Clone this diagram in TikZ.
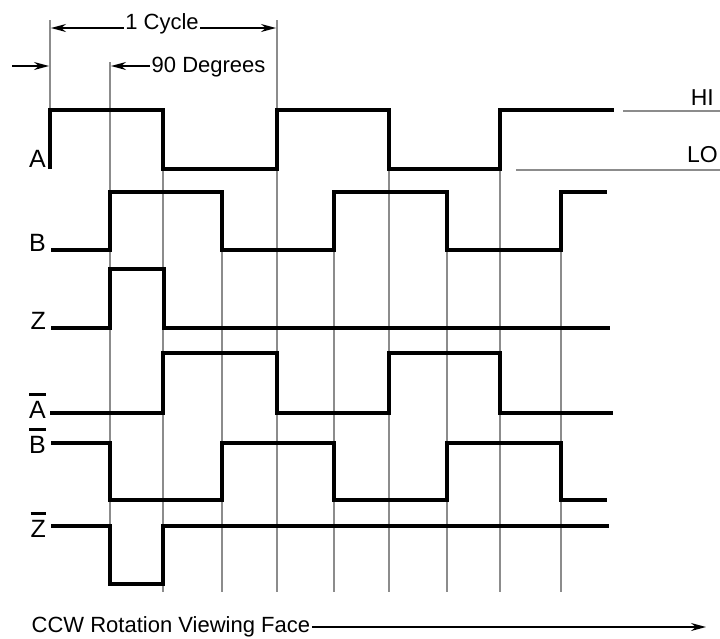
\documentclass[tikz,border=0pt]{standalone}
\usepackage{fontspec}
\setmainfont{Liberation Sans}
\usetikzlibrary{arrows.meta}
\newcommand{\sigbar}[1]{\vbox{\hrule height 2.6pt\kern 5pt\hbox{#1}}}

\begin{document}
\begin{tikzpicture}[x=1pt,y=-1pt,
        wave/.style={line width=3.2pt, line join=miter},
        tick/.style={black!45, line width=1.6pt},
        level/.style={black!45, line width=1.8pt},
        sig/.style={font=\fontsize{25}{29}\selectfont, anchor=base east, inner sep=1pt},
        note/.style={font=\fontsize{22}{26}\selectfont, inner sep=1.5pt},
        dim/.style={line width=1.4pt, -{Stealth[length=15pt,width=8pt]}}]
                \useasboundingbox (0,0) rectangle (720,638);

                \draw [tick] (50,20) -- (50,110);
                \draw [tick] (110,62) -- (110,584);
                \draw [tick] (163,169) -- (163,592);
                \draw [tick] (222,250) -- (222,592);
                \draw [tick] (277,20) -- (277,592);
                \draw [tick] (334,250) -- (334,592);
                \draw [tick] (389,169) -- (389,592);
                \draw [tick] (447,250) -- (447,592);
                \draw [tick] (500,169) -- (500,592);
                \draw [tick] (561,250) -- (561,592);

                \draw [level] (623,111) -- (720,111);
                \draw [level] (516,170) -- (720,170);

                \draw [wave] (50,169) -- (50,110) -- (163,110) -- (163,169) -- (277,169) -- (277,110)
                        -- (389,110) -- (389,169) -- (500,169) -- (500,110) -- (614,110);
                \draw [wave] (51,250) -- (110,250) -- (110,192) -- (222,192) -- (222,250) -- (334,250)
                        -- (334,192) -- (447,192) -- (447,250) -- (561,250) -- (561,192) -- (607,192);
                \draw [wave] (51,328) -- (110,328) -- (110,269) -- (164,269) -- (164,328) -- (610,328);
                \draw [wave] (50,413) -- (163,413) -- (163,353) -- (277,353) -- (277,413) -- (389,413)
                        -- (389,353) -- (500,353) -- (500,413) -- (613,413);
                \draw [wave] (51,443) -- (110,443) -- (110,500) -- (222,500) -- (222,443) -- (334,443)
                        -- (334,500) -- (447,500) -- (447,443) -- (561,443) -- (561,500) -- (607,500);
                \draw [wave] (51,526) -- (110,526) -- (110,584) -- (163,584) -- (163,526) -- (609,526);

                \node [sig] (labA) at (47,167) {A};
                \node [sig] (labB) at (47,251) {B};
                \node [sig] (labZ) at (47,329) {Z};
                \node [sig] (labAbar) at (47,418) {\sigbar{A}};
                \node [sig] (labBbar) at (47,453) {\sigbar{B}};
                \node [sig] (labZbar) at (47,537) {\sigbar{Z}};

                \node [sig, font=\fontsize{23}{27}\selectfont] (hi) at (715,105) {HI};
                \node [sig, font=\fontsize{23}{27}\selectfont] (lo) at (719,162) {LO};

                \node [note, anchor=base] (cycle) at (162,29) {1 Cycle};
                \node [note, anchor=base west] (deg) at (150,72) {90 Degrees};
                \node [note, anchor=base west] (ccw) at (30,632) {CCW Rotation Viewing Face};

                \coordinate (cycL) at (51,28);
                \coordinate (cycR) at (276,28);
                \coordinate (degL) at (111,66);
                \coordinate (startL) at (12,66);
                \coordinate (startR) at (49,66);
                \coordinate (ccwR) at (706,627);

                \draw [dim] (cycle.west |- cycL) -- (cycL);
                \draw [dim] (cycle.east |- cycR) -- (cycR);
                \draw [dim] (deg.west |- degL) -- (degL);
                \draw [dim] (startL) -- (startR);
                \draw [dim] (ccw.east |- ccwR) -- (ccwR);
\end{tikzpicture}
\end{document}
